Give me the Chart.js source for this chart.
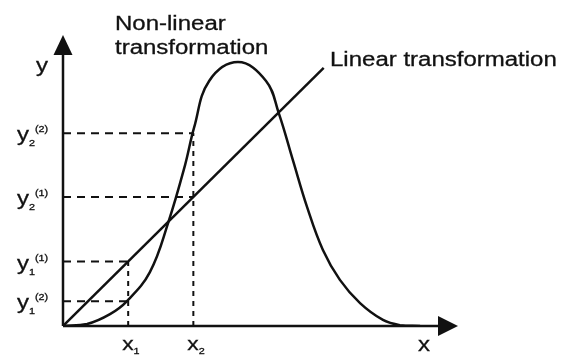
<!DOCTYPE html>
<html>
<head>
<meta charset="utf-8">
<script src="https://cdn.jsdelivr.net/npm/chart.js@4"></script>
<style>
  html, body { margin: 0; padding: 0; background: #fff; }
  #wrap { width: 561px; height: 358px; }
</style>
</head>
<body>
<div id="wrap"><canvas id="transformChart"></canvas></div>
<script>
// bell shaped curve (non-linear transformation)
const curveX = [0, 6.1, 11.9, 16.2, 22, 26.6, 30.9, 33.2, 37, 44.3, 51.4, 54.6, 58.2, 61.8, 65.8, 70.1, 75.2, 81, 85.3, 90.4];
const curveY = [0, 0.7, 4.1, 8.6, 18.6, 35.5, 55.5, 68.5, 84.5, 91, 84.5, 73.5, 57.2, 41, 26.2, 15.9, 7.9, 2.1, 0.3, 0];

// straight line (linear transformation)
const lineX = [0, 66];
const lineY = [0, 89];

// guide marks
const xMarks = [16.5, 33];
const xSubs = ['1', '2'];
const yMarks = [8.5, 22.2, 44.5, 66.5];
const ySubs = ['1', '1', '2', '2'];
const ySups = ['(2)', '(1)', '(1)', '(2)'];
const yMarkToX = [16.5, 16.5, 33, 33];
const xMarkTopY = [22.2, 66.5];

const guideSets = [];
yMarks.forEach((y, i) => {
    guideSets.push({
        data: [{x: 0, y: y}, {x: yMarkToX[i], y: y}],
        borderColor: '#111', borderWidth: 2, borderDash: [8, 6],
        showLine: true, pointRadius: 0
    });
});
xMarks.forEach((x, i) => {
    guideSets.push({
        data: [{x: x, y: 0}, {x: x, y: xMarkTopY[i]}],
        borderColor: '#111', borderWidth: 2, borderDash: [5, 5],
        showLine: true, pointRadius: 0
    });
});

// scanned text in the picture is a bit wider and heavier than Liberation Sans
function stretchText(ctx, text, x, y, size, align) {
    ctx.save();
    ctx.font = size + 'px "Liberation Sans", Arial, sans-serif';
    ctx.textBaseline = 'alphabetic';
    ctx.textAlign = 'left';
    const w = ctx.measureText(text).width * 1.2;
    let sx = x;
    if (align === 'center') sx = x - w / 2;
    ctx.translate(sx, y);
    ctx.scale(1.2, 1);
    ctx.lineWidth = 0.3;
    ctx.strokeText(text, 0, 0);
    ctx.fillText(text, 0, 0);
    ctx.restore();
    return w;
}

const diagramPlugin = {
    id: 'diagram',
    afterDraw(chart) {
        const ctx = chart.ctx;
        const xs = chart.scales.x, ys = chart.scales.y;
        const ox = xs.getPixelForValue(0), oy = ys.getPixelForValue(0);
        const top = chart.chartArea.top - 1, right = chart.chartArea.right;
        ctx.save();
        ctx.strokeStyle = '#111';
        ctx.fillStyle = '#111';
        ctx.lineWidth = 2.5;
        // axes
        ctx.beginPath();
        ctx.moveTo(ox, oy); ctx.lineTo(ox, top + 15);
        ctx.moveTo(ox, oy); ctx.lineTo(right - 15, oy);
        ctx.stroke();
        // arrow heads
        ctx.beginPath();
        ctx.moveTo(ox, top); ctx.lineTo(ox - 9.5, top + 20); ctx.lineTo(ox + 9.5, top + 20);
        ctx.closePath(); ctx.fill();
        ctx.beginPath();
        ctx.moveTo(right, oy); ctx.lineTo(right - 20, oy - 10); ctx.lineTo(right - 20, oy + 10);
        ctx.closePath(); ctx.fill();

        // axis names
        stretchText(ctx, 'y', 42, 72, 20, 'center');
        stretchText(ctx, 'x', 424, 351, 20, 'center');

        // x marks
        xMarks.forEach((x, i) => {
            const px = xs.getPixelForValue(x);
            const w = stretchText(ctx, 'x', px - 6, 350, 19);
            stretchText(ctx, xSubs[i], px - 6 + w, 354, 9);
        });
        // y marks
        yMarks.forEach((y, i) => {
            const py = ys.getPixelForValue(y);
            const w = stretchText(ctx, 'y', 17, py + 8, 20);
            stretchText(ctx, ySubs[i], 17 + w, py + 13, 9);
            stretchText(ctx, ySups[i], 35, py - 1, 9);
        });

        // titles
        stretchText(ctx, 'Non-linear', 115, 30, 20);
        stretchText(ctx, 'transformation', 115, 54, 20);
        stretchText(ctx, 'Linear transformation', 330, 66, 20);
        ctx.restore();
    }
};

const chartCtx = document.getElementById('transformChart').getContext('2d');
const transformChart = new Chart(chartCtx, {
    type: 'scatter',
    data: {
        datasets: [
            {
                label: 'Non-linear transformation',
                data: curveX.map((x, i) => ({x: x, y: curveY[i]})),
                borderColor: '#111', borderWidth: 2.5,
                showLine: true, pointRadius: 0,
                tension: 0.4
            },
            {
                label: 'Linear transformation',
                data: lineX.map((x, i) => ({x: x, y: lineY[i]})),
                borderColor: '#111', borderWidth: 2.5,
                showLine: true, pointRadius: 0
            }
        ].concat(guideSets)
    },
    options: {
        responsive: true,
        maintainAspectRatio: false,
        animation: false,
        layout: { padding: { left: 63, right: 103, top: 36, bottom: 32 } },
        scales: {
            x: { type: 'linear', min: 0, max: 100, display: false },
            y: { type: 'linear', min: 0, max: 100, display: false }
        },
        plugins: {
            legend: { display: false },
            tooltip: { enabled: false }
        }
    },
    plugins: [diagramPlugin]
});
</script>
</body>
</html>
